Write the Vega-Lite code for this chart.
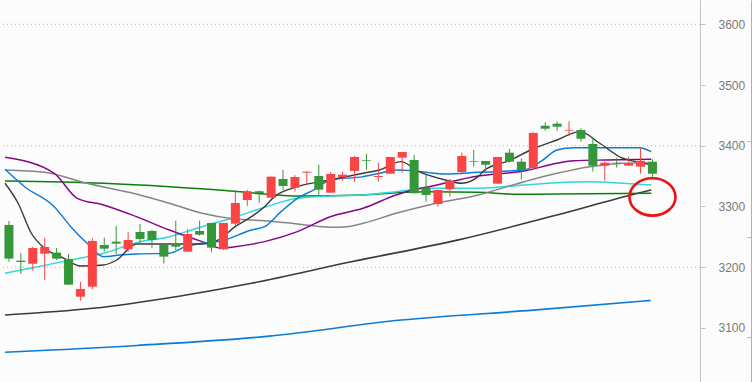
{
  "$schema": "https://vega.github.io/schema/vega-lite/v6.json",
  "width": 700,
  "height": 382,
  "autosize": {"type": "none"},
  "padding": {"left": 0, "top": 0, "right": 52, "bottom": 0},
  "background": "#fcfcfc",
  "config": {
    "view": {"stroke": null},
    "axis": {"labelFont": "Liberation Sans", "labelFontSize": 12, "labelColor": "#7a7a7a", "domainColor": "#c4c4c4", "tickColor": "#c4c4c4", "title": null}
  },
  "datasets": {
    "grid": [{"g": 3200}, {"g": 3400}, {"g": 3600}],
    "note": [{"i": 55.0, "v": 3315.7}],
    "candles": [
      {"i": 1, "o": 3269.6, "c": 3214.1, "h": 3276.1, "l": 3209.1},
      {"i": 2, "o": 3210.8, "c": 3208.6, "h": 3223.5, "l": 3188.9},
      {"i": 3, "o": 3205.8, "c": 3231.7, "h": 3233.8, "l": 3194.3},
      {"i": 4, "o": 3222.3, "c": 3233.3, "h": 3248.7, "l": 3179.0},
      {"i": 5, "o": 3224.0, "c": 3214.1, "h": 3231.7, "l": 3211.9},
      {"i": 6, "o": 3213.6, "c": 3171.3, "h": 3222.3, "l": 3170.8},
      {"i": 7, "o": 3151.5, "c": 3164.2, "h": 3175.7, "l": 3144.9},
      {"i": 8, "o": 3168.0, "c": 3243.2, "h": 3247.7, "l": 3164.2},
      {"i": 9, "o": 3236.6, "c": 3230.5, "h": 3248.7, "l": 3225.6},
      {"i": 10, "o": 3242.1, "c": 3238.8, "h": 3267.9, "l": 3221.8},
      {"i": 11, "o": 3229.5, "c": 3244.9, "h": 3258.5, "l": 3225.6},
      {"i": 12, "o": 3258.0, "c": 3246.5, "h": 3271.2, "l": 3238.3},
      {"i": 13, "o": 3259.7, "c": 3244.9, "h": 3261.3, "l": 3231.7},
      {"i": 14, "o": 3236.6, "c": 3217.4, "h": 3238.3, "l": 3205.8},
      {"i": 15, "o": 3239.9, "c": 3233.8, "h": 3276.6, "l": 3228.4},
      {"i": 16, "o": 3225.6, "c": 3254.7, "h": 3263.0, "l": 3225.1},
      {"i": 17, "o": 3259.7, "c": 3253.6, "h": 3276.6, "l": 3251.9},
      {"i": 18, "o": 3272.9, "c": 3232.2, "h": 3272.9, "l": 3224.6},
      {"i": 19, "o": 3229.5, "c": 3272.9, "h": 3272.9, "l": 3228.4},
      {"i": 20, "o": 3271.7, "c": 3305.8, "h": 3327.2, "l": 3267.9},
      {"i": 21, "o": 3310.7, "c": 3325.0, "h": 3327.2, "l": 3300.8},
      {"i": 22, "o": 3325.0, "c": 3321.7, "h": 3326.0, "l": 3306.3},
      {"i": 23, "o": 3314.5, "c": 3349.1, "h": 3349.1, "l": 3314.5},
      {"i": 24, "o": 3345.3, "c": 3333.8, "h": 3360.1, "l": 3327.2},
      {"i": 25, "o": 3331.0, "c": 3348.6, "h": 3351.4, "l": 3324.4},
      {"i": 26, "o": 3355.7, "c": 3357.3, "h": 3358.5, "l": 3335.9},
      {"i": 27, "o": 3350.2, "c": 3327.7, "h": 3368.8, "l": 3319.5},
      {"i": 28, "o": 3322.7, "c": 3353.5, "h": 3356.8, "l": 3322.7},
      {"i": 29, "o": 3348.6, "c": 3352.4, "h": 3357.3, "l": 3342.0},
      {"i": 30, "o": 3358.5, "c": 3381.5, "h": 3383.2, "l": 3340.8},
      {"i": 31, "o": 3376.6, "c": 3375.4, "h": 3386.9, "l": 3360.6},
      {"i": 32, "o": 3348.6, "c": 3350.2, "h": 3372.1, "l": 3340.8},
      {"i": 33, "o": 3354.0, "c": 3381.5, "h": 3381.5, "l": 3354.0},
      {"i": 34, "o": 3380.4, "c": 3389.7, "h": 3389.7, "l": 3355.7},
      {"i": 35, "o": 3376.6, "c": 3321.8, "h": 3384.8, "l": 3321.8},
      {"i": 36, "o": 3331.0, "c": 3319.0, "h": 3352.4, "l": 3307.9},
      {"i": 37, "o": 3304.1, "c": 3327.2, "h": 3327.2, "l": 3299.7},
      {"i": 38, "o": 3328.3, "c": 3342.5, "h": 3345.3, "l": 3316.2},
      {"i": 39, "o": 3356.8, "c": 3383.2, "h": 3388.6, "l": 3353.0},
      {"i": 40, "o": 3374.9, "c": 3373.8, "h": 3393.0, "l": 3365.6},
      {"i": 41, "o": 3374.9, "c": 3368.8, "h": 3374.9, "l": 3357.3},
      {"i": 42, "o": 3337.6, "c": 3381.5, "h": 3381.5, "l": 3337.6},
      {"i": 43, "o": 3388.6, "c": 3373.8, "h": 3394.7, "l": 3372.1},
      {"i": 44, "o": 3373.8, "c": 3360.1, "h": 3378.7, "l": 3344.1},
      {"i": 45, "o": 3362.9, "c": 3421.0, "h": 3422.7, "l": 3362.9},
      {"i": 46, "o": 3433.0, "c": 3428.1, "h": 3438.6, "l": 3424.8},
      {"i": 47, "o": 3436.3, "c": 3431.4, "h": 3440.3, "l": 3424.8},
      {"i": 48, "o": 3424.8, "c": 3426.0, "h": 3440.8, "l": 3416.1},
      {"i": 49, "o": 3426.0, "c": 3411.6, "h": 3428.8, "l": 3406.7},
      {"i": 50, "o": 3402.9, "c": 3367.2, "h": 3414.9, "l": 3357.3},
      {"i": 51, "o": 3367.2, "c": 3372.1, "h": 3373.8, "l": 3342.5},
      {"i": 52, "o": 3372.1, "c": 3371.1, "h": 3380.4, "l": 3363.9},
      {"i": 53, "o": 3367.2, "c": 3371.1, "h": 3382.0, "l": 3367.2},
      {"i": 54, "o": 3365.6, "c": 3374.9, "h": 3396.8, "l": 3354.0},
      {"i": 55, "o": 3373.8, "c": 3354.0, "h": 3377.7, "l": 3348.6}
    ],
    "ma": [
      {"s": "MA250", "i": 0.67, "v": 3060.1},
      {"s": "MA250", "i": 11.75, "v": 3071.2},
      {"s": "MA250", "i": 22.84, "v": 3086.5},
      {"s": "MA250", "i": 33.92, "v": 3113.0},
      {"s": "MA250", "i": 45.0, "v": 3129.4},
      {"s": "MA250", "i": 54.84, "v": 3145.4},
      {"s": "MA120", "i": 0.67, "v": 3121.4},
      {"s": "MA120", "i": 8.03, "v": 3132.3},
      {"s": "MA120", "i": 15.39, "v": 3152.7},
      {"s": "MA120", "i": 21.35, "v": 3173.6},
      {"s": "MA120", "i": 29.62, "v": 3208.6},
      {"s": "MA120", "i": 38.72, "v": 3245.0},
      {"s": "MA120", "i": 46.99, "v": 3286.0},
      {"s": "MA120", "i": 53.19, "v": 3319.0},
      {"s": "MA120", "i": 54.9, "v": 3327.2},
      {"s": "MA90", "i": 0.67, "v": 3342.0},
      {"s": "MA90", "i": 8.94, "v": 3338.2},
      {"s": "MA90", "i": 14.46, "v": 3332.6},
      {"s": "MA90", "i": 18.59, "v": 3327.2},
      {"s": "MA90", "i": 22.45, "v": 3320.6},
      {"s": "MA90", "i": 25.21, "v": 3317.3},
      {"s": "MA90", "i": 30.72, "v": 3319.0},
      {"s": "MA90", "i": 33.48, "v": 3322.7},
      {"s": "MA90", "i": 36.23, "v": 3324.4},
      {"s": "MA90", "i": 40.37, "v": 3323.4},
      {"s": "MA90", "i": 43.54, "v": 3320.1},
      {"s": "MA90", "i": 46.99, "v": 3320.6},
      {"s": "MA90", "i": 54.9, "v": 3321.8},
      {"s": "MA60", "i": 0.67, "v": 3190.0},
      {"s": "MA60", "i": 3.42, "v": 3200.9},
      {"s": "MA60", "i": 6.19, "v": 3211.9},
      {"s": "MA60", "i": 8.94, "v": 3223.0},
      {"s": "MA60", "i": 11.69, "v": 3240.4},
      {"s": "MA60", "i": 14.46, "v": 3250.3},
      {"s": "MA60", "i": 17.21, "v": 3266.8},
      {"s": "MA60", "i": 19.69, "v": 3280.6},
      {"s": "MA60", "i": 22.45, "v": 3298.7},
      {"s": "MA60", "i": 25.21, "v": 3313.5},
      {"s": "MA60", "i": 27.96, "v": 3317.3},
      {"s": "MA60", "i": 30.72, "v": 3319.0},
      {"s": "MA60", "i": 33.48, "v": 3324.4},
      {"s": "MA60", "i": 36.23, "v": 3330.0},
      {"s": "MA60", "i": 40.37, "v": 3330.0},
      {"s": "MA60", "i": 44.23, "v": 3335.4},
      {"s": "MA60", "i": 46.99, "v": 3339.2},
      {"s": "MA60", "i": 49.74, "v": 3340.8},
      {"s": "MA60", "i": 52.5, "v": 3338.2},
      {"s": "MA60", "i": 54.9, "v": 3335.4},
      {"s": "MA30", "i": 0.67, "v": 3360.1},
      {"s": "MA30", "i": 3.98, "v": 3356.3},
      {"s": "MA30", "i": 7.53, "v": 3338.2},
      {"s": "MA30", "i": 11.67, "v": 3320.6},
      {"s": "MA30", "i": 14.46, "v": 3305.3},
      {"s": "MA30", "i": 17.21, "v": 3288.8},
      {"s": "MA30", "i": 19.94, "v": 3279.4},
      {"s": "MA30", "i": 22.45, "v": 3276.6},
      {"s": "MA30", "i": 25.21, "v": 3271.2},
      {"s": "MA30", "i": 27.96, "v": 3265.8},
      {"s": "MA30", "i": 29.34, "v": 3266.8},
      {"s": "MA30", "i": 30.72, "v": 3272.4},
      {"s": "MA30", "i": 33.48, "v": 3288.8},
      {"s": "MA30", "i": 36.23, "v": 3302.5},
      {"s": "MA30", "i": 40.37, "v": 3318.9},
      {"s": "MA30", "i": 44.23, "v": 3340.8},
      {"s": "MA30", "i": 46.99, "v": 3354.7},
      {"s": "MA30", "i": 49.74, "v": 3365.6},
      {"s": "MA30", "i": 52.5, "v": 3371.1},
      {"s": "MA30", "i": 54.9, "v": 3372.1},
      {"s": "MA20", "i": 0.67, "v": 3381.0},
      {"s": "MA20", "i": 4.8, "v": 3354.7},
      {"s": "MA20", "i": 6.73, "v": 3313.5},
      {"s": "MA20", "i": 8.94, "v": 3302.5},
      {"s": "MA20", "i": 11.69, "v": 3283.2},
      {"s": "MA20", "i": 14.46, "v": 3261.3},
      {"s": "MA20", "i": 17.21, "v": 3242.1},
      {"s": "MA20", "i": 18.87, "v": 3231.2},
      {"s": "MA20", "i": 19.97, "v": 3233.8},
      {"s": "MA20", "i": 22.45, "v": 3242.1},
      {"s": "MA20", "i": 25.21, "v": 3258.5},
      {"s": "MA20", "i": 27.96, "v": 3283.2},
      {"s": "MA20", "i": 30.72, "v": 3297.1},
      {"s": "MA20", "i": 33.48, "v": 3319.0},
      {"s": "MA20", "i": 34.85, "v": 3327.2},
      {"s": "MA20", "i": 36.23, "v": 3332.6},
      {"s": "MA20", "i": 40.37, "v": 3350.2},
      {"s": "MA20", "i": 44.23, "v": 3358.5},
      {"s": "MA20", "i": 46.99, "v": 3371.1},
      {"s": "MA20", "i": 48.37, "v": 3375.4},
      {"s": "MA20", "i": 51.12, "v": 3376.6},
      {"s": "MA20", "i": 54.9, "v": 3377.7},
      {"s": "MA10", "i": 0.67, "v": 3361.3},
      {"s": "MA10", "i": 2.32, "v": 3332.6},
      {"s": "MA10", "i": 4.8, "v": 3299.7},
      {"s": "MA10", "i": 6.19, "v": 3266.8},
      {"s": "MA10", "i": 7.56, "v": 3239.4},
      {"s": "MA10", "i": 8.94, "v": 3217.4},
      {"s": "MA10", "i": 10.32, "v": 3220.2},
      {"s": "MA10", "i": 11.69, "v": 3221.8},
      {"s": "MA10", "i": 14.46, "v": 3223.0},
      {"s": "MA10", "i": 15.83, "v": 3233.8},
      {"s": "MA10", "i": 17.21, "v": 3239.4},
      {"s": "MA10", "i": 18.59, "v": 3242.1},
      {"s": "MA10", "i": 21.35, "v": 3261.3},
      {"s": "MA10", "i": 22.45, "v": 3266.8},
      {"s": "MA10", "i": 23.83, "v": 3291.5},
      {"s": "MA10", "i": 25.21, "v": 3313.5},
      {"s": "MA10", "i": 26.58, "v": 3327.2},
      {"s": "MA10", "i": 27.96, "v": 3343.6},
      {"s": "MA10", "i": 30.72, "v": 3349.1},
      {"s": "MA10", "i": 32.1, "v": 3354.7},
      {"s": "MA10", "i": 33.48, "v": 3360.1},
      {"s": "MA10", "i": 34.85, "v": 3359.0},
      {"s": "MA10", "i": 36.23, "v": 3355.7},
      {"s": "MA10", "i": 37.62, "v": 3353.5},
      {"s": "MA10", "i": 40.37, "v": 3356.3},
      {"s": "MA10", "i": 44.23, "v": 3360.1},
      {"s": "MA10", "i": 45.61, "v": 3373.8},
      {"s": "MA10", "i": 46.99, "v": 3393.0},
      {"s": "MA10", "i": 48.37, "v": 3396.8},
      {"s": "MA10", "i": 53.88, "v": 3396.8},
      {"s": "MA10", "i": 54.9, "v": 3390.2},
      {"s": "MA5", "i": 0.67, "v": 3338.2},
      {"s": "MA5", "i": 1.77, "v": 3305.3},
      {"s": "MA5", "i": 2.88, "v": 3255.9},
      {"s": "MA5", "i": 3.98, "v": 3231.2},
      {"s": "MA5", "i": 5.63, "v": 3214.7},
      {"s": "MA5", "i": 7.01, "v": 3202.1},
      {"s": "MA5", "i": 8.94, "v": 3203.7},
      {"s": "MA5", "i": 10.04, "v": 3211.9},
      {"s": "MA5", "i": 11.69, "v": 3238.3},
      {"s": "MA5", "i": 14.46, "v": 3238.3},
      {"s": "MA5", "i": 17.21, "v": 3238.3},
      {"s": "MA5", "i": 18.59, "v": 3244.9},
      {"s": "MA5", "i": 19.97, "v": 3266.8},
      {"s": "MA5", "i": 21.35, "v": 3283.2},
      {"s": "MA5", "i": 22.45, "v": 3299.7},
      {"s": "MA5", "i": 23.28, "v": 3316.2},
      {"s": "MA5", "i": 25.21, "v": 3332.6},
      {"s": "MA5", "i": 27.96, "v": 3343.6},
      {"s": "MA5", "i": 30.72, "v": 3354.7},
      {"s": "MA5", "i": 32.1, "v": 3360.1},
      {"s": "MA5", "i": 33.89, "v": 3373.8},
      {"s": "MA5", "i": 35.41, "v": 3357.3},
      {"s": "MA5", "i": 37.62, "v": 3343.6},
      {"s": "MA5", "i": 38.99, "v": 3338.2},
      {"s": "MA5", "i": 40.37, "v": 3349.1},
      {"s": "MA5", "i": 40.92, "v": 3360.1},
      {"s": "MA5", "i": 43.13, "v": 3376.6},
      {"s": "MA5", "i": 44.78, "v": 3393.0},
      {"s": "MA5", "i": 46.99, "v": 3409.5},
      {"s": "MA5", "i": 48.92, "v": 3423.2},
      {"s": "MA5", "i": 50.57, "v": 3404.1},
      {"s": "MA5", "i": 52.5, "v": 3379.4},
      {"s": "MA5", "i": 53.6, "v": 3373.8},
      {"s": "MA5", "i": 54.9, "v": 3368.3}
    ]
  },
  "layer": [
    {
      "data": {"name": "grid"},
      "mark": {"type": "rule", "color": "#b4b4b4", "strokeDash": [1, 3], "strokeWidth": 1},
      "encoding": {
        "y": {"field": "g", "type": "quantitative", "scale": {"domain": [3011, 3640], "nice": false, "zero": false},
          "axis": {"orient": "right", "offset": 51, "labels": false, "grid": false, "values": [3407.9, 3249.8, 3085.2], "tickSize": -4, "domainColor": "#b0b0b0", "tickColor": "#b0b0b0"}}
      }
    },
    {
      "data": {"name": "ma"},
      "mark": {"type": "line", "clip": true, "interpolate": "monotone"},
      "encoding": {
        "x": {"field": "i", "type": "quantitative", "scale": {"domain": [0.669, 58.57], "nice": false, "zero": false}, "axis": null},
        "y": {"field": "v", "type": "quantitative", "scale": {"domain": [3011, 3640], "nice": false, "zero": false},
          "axis": {"orient": "right", "values": [3100, 3200, 3300, 3400, 3500, 3600], "format": "d", "tickSize": 5, "labelPadding": 13, "grid": false}},
        "color": {"field": "s", "type": "nominal", "legend": null,
          "scale": {"domain": ["MA250", "MA120", "MA90", "MA60", "MA30", "MA20", "MA10", "MA5"],
            "range": ["#0a7bd6", "#3a3a3a", "#0a800a", "#2fd8dc", "#858585", "#85058a", "#0a7bd6", "#3a3a3a"]}},
        "strokeWidth": {"field": "s", "type": "nominal", "legend": null,
          "scale": {"domain": ["MA250", "MA120", "MA90", "MA60", "MA30", "MA20", "MA10", "MA5"],
            "range": [1.6, 1.4, 1.6, 1.6, 1.3, 1.4, 1.4, 1.1]}}
      }
    },
    {
      "data": {"name": "candles"},
      "mark": {"type": "rule", "strokeWidth": 1, "clip": true},
      "encoding": {
        "x": {"field": "i", "type": "quantitative", "scale": {"domain": [0.669, 58.57], "nice": false, "zero": false}, "axis": null},
        "y": {"field": "l", "type": "quantitative", "scale": {"domain": [3011, 3640], "nice": false, "zero": false}, "axis": null},
        "y2": {"field": "h"},
        "color": {"condition": {"test": "datum.c >= datum.o", "value": "#fb4444"}, "value": "#36963a"}
      }
    },
    {
      "data": {"name": "candles"},
      "mark": {"type": "bar", "size": 9, "clip": true},
      "encoding": {
        "x": {"field": "i", "type": "quantitative", "scale": {"domain": [0.669, 58.57], "nice": false, "zero": false}, "axis": null},
        "y": {"field": "o", "type": "quantitative", "scale": {"domain": [3011, 3640], "nice": false, "zero": false}, "axis": null},
        "y2": {"field": "c"},
        "color": {"condition": {"test": "datum.c >= datum.o", "value": "#fb4444"}, "value": "#36963a"}
      }
    },
    {
      "data": {"name": "note"},
      "mark": {"type": "point", "filled": false, "shape": "M -1 0 A 1 0.81 0 1 1 1 0 A 1 0.81 0 1 1 -1 0 Z", "size": 2116, "stroke": "#ee1111", "strokeWidth": 2.6, "opacity": 1},
      "encoding": {
        "x": {"field": "i", "type": "quantitative", "scale": {"domain": [0.669, 58.57], "nice": false, "zero": false}, "axis": null},
        "y": {"field": "v", "type": "quantitative", "scale": {"domain": [3011, 3640], "nice": false, "zero": false}, "axis": null}
      }
    }
  ],
  "resolve": {"axis": {"y": "independent"}}
}
